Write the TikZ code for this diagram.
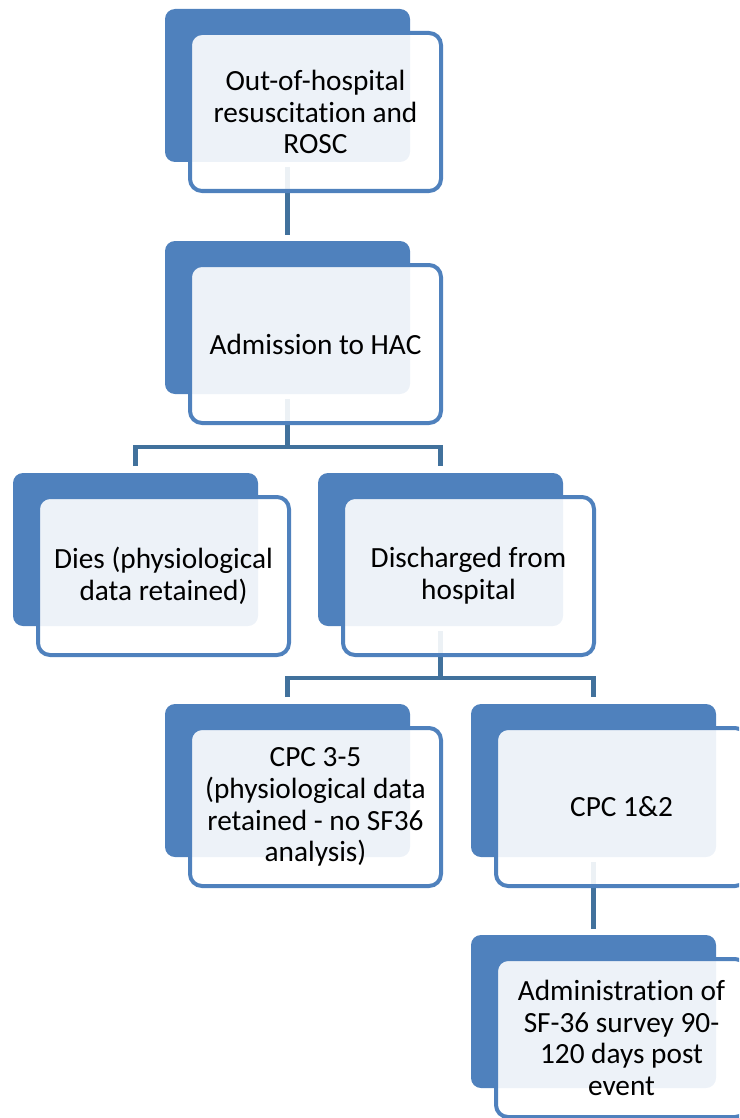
\documentclass[tikz,border=0pt]{standalone}
\usepackage{fontspec}
\setmainfont{Carlito}[Ligatures=NoCommon]
\usepackage{tikz}
\definecolor{boxblue}{HTML}{4F81BD}
\definecolor{linkblue}{HTML}{41719C}

\begin{document}
\begin{tikzpicture}[x=1pt,y=-1pt]
	\tikzstyle{every node}+=[inner sep=0pt, outer sep=0pt]
	\tikzstyle{shadowbox}=[fill=boxblue, rounded corners=10pt, minimum width=245pt, minimum height=153pt]
	\tikzstyle{framebox}=[draw=boxblue, line width=4pt, fill=white, fill opacity=0.9, text opacity=1, rounded corners=12pt, minimum width=251pt, minimum height=158pt, align=center, font=\fontsize{29.3}{31.7}\selectfont]
	\tikzstyle{link}=[linkblue, line width=4.5pt]
	\useasboundingbox (0,0) rectangle (739,1118);
	\clip (0,0) rectangle (739,1118);
	% back boxes
	\node [shadowbox] (roscB) at (287.5,85.5) {};
	\node [shadowbox] (hacB) at (287.5,317.5) {};
	\node [shadowbox] (diesB) at (135.5,549.5) {};
	\node [shadowbox] (dischB) at (440.5,549.5) {};
	\node [shadowbox] (cpcLowB) at (287.5,780.5) {};
	\node [shadowbox] (cpcHighB) at (593.5,780.5) {};
	\node [shadowbox] (sfB) at (593.5,1011.5) {};
	% connectors
	\coordinate (splitA) at (287.5,447);
	\coordinate (splitB) at (440.5,678);
	\draw [link, shorten <=5pt, shorten >=6pt] (roscB.south) -- (hacB.north);
	\draw [link, shorten <=5pt] (hacB.south) -- (splitA);
	\draw [link, shorten <=7pt, shorten >=7pt] (diesB.north) |- (splitA) -| (dischB.north);
	\draw [link, shorten <=5pt] (dischB.south) -- (splitB);
	\draw [link, shorten <=7pt, shorten >=7pt] (cpcLowB.north) |- (splitB) -| (cpcHighB.north);
	\draw [link, shorten <=5pt, shorten >=6pt] (cpcHighB.south) -- (sfB.north);
	% front boxes
	\node [framebox] (rosc) at (315.5,112) {Out-of-hospital\\resuscitation and\\ROSC};
	\node [framebox] (hac) at (315.5,344) {Admission to HAC};
	\node [framebox] (dies) at (163.5,576) {Dies (physiological\\data retained)};
	\node [framebox] (disch) at (468.5,576) {Discharged from\\hospital};
	\node [framebox] (cpcLow) at (315.5,807) {CPC 3-5\\(physiological data\\retained - no SF36\\analysis)};
	\node [framebox] (cpcHigh) at (621.5,807) {CPC 1\&2};
	\node [framebox] (sf) at (621.5,1038) {Administration of\\SF-36 survey 90-\\120 days post\\event};
\end{tikzpicture}
\end{document}
